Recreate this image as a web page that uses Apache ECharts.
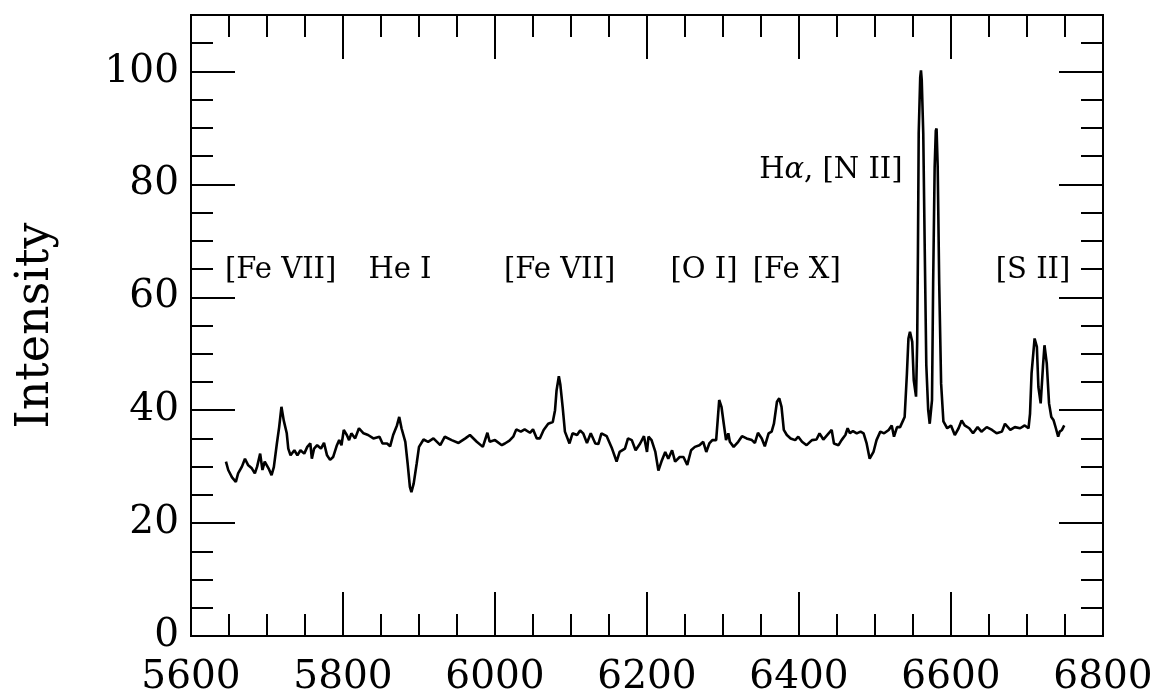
<!DOCTYPE html>
<html>
<head>
<meta charset="utf-8">
<script src="https://cdn.jsdelivr.net/npm/echarts@6/dist/echarts.min.js"></script>
<style>
  html, body { margin: 0; padding: 0; background: #fff; overflow: hidden; }
  #chart { width: 1154px; height: 693px; }
</style>
</head>
<body>
<div id="chart"></div>
<script>
// wavelength (Å) and intensity
const wave = [
  5646, 5649, 5654, 5659, 5662, 5667, 5671, 5675, 5680, 5684, 5687, 5691, 5694, 5697, 5702, 5706, 5709,
  5713, 5716, 5719, 5722, 5726, 5728, 5731, 5736, 5740, 5744, 5749, 5753, 5757, 5759, 5762, 5766, 5771,
  5775, 5779, 5783, 5787, 5792, 5795, 5798, 5801, 5805, 5808, 5811, 5816, 5821, 5827, 5833, 5840, 5848,
  5852, 5858, 5862, 5866, 5871, 5874, 5877, 5882, 5885, 5888, 5890, 5893, 5897, 5900, 5906, 5912, 5919,
  5928, 5934, 5943, 5952, 5961, 5967, 5976, 5984, 5990, 5993, 6000, 6009, 6013, 6019, 6024, 6028, 6034,
  6039, 6046, 6050, 6055, 6059, 6064, 6070, 6076, 6079, 6081, 6084, 6086, 6089, 6092, 6098, 6102, 6108,
  6112, 6116, 6121, 6126, 6132, 6136, 6140, 6147, 6154, 6160, 6164, 6171, 6175, 6180, 6185, 6191, 6196,
  6200, 6202, 6206, 6211, 6215, 6219, 6224, 6228, 6233, 6237, 6243, 6248, 6253, 6258, 6263, 6269, 6274,
  6278, 6282, 6286, 6291, 6293, 6295, 6298, 6301, 6304, 6307, 6309, 6314, 6320, 6325, 6331, 6338, 6342,
  6346, 6351, 6355, 6360, 6364, 6367, 6371, 6374, 6377, 6380, 6384, 6389, 6395, 6399, 6404, 6410, 6417,
  6423, 6427, 6432, 6439, 6443, 6446, 6452, 6456, 6461, 6464, 6467, 6471, 6476, 6481, 6485, 6489, 6493,
  6498, 6502, 6507, 6512, 6518, 6522, 6525, 6529, 6533, 6537, 6539, 6542, 6544, 6546, 6549, 6551, 6554,
  6555.5, 6556.5, 6557.5, 6559.5, 6560.5, 6561.5, 6563.5, 6565.5, 6567.5, 6570, 6572, 6575, 6576.5, 6578.5,
  6580, 6581, 6582.5, 6584.5, 6587,
  6590, 6595, 6600, 6605, 6610, 6614, 6618, 6624, 6629, 6635, 6640, 6647, 6654, 6660, 6667, 6671, 6678,
  6684, 6691, 6697, 6702, 6704, 6706, 6710, 6713, 6715, 6718, 6721, 6723, 6726, 6729, 6732, 6735, 6738,
  6741, 6743, 6746, 6749
];
const intensity = [
  30.9, 29.4, 28.1, 27.3, 28.8, 30.0, 31.4, 30.3, 29.7, 28.8, 30.0, 32.3, 29.4, 30.9, 29.7, 28.5, 29.9,
  34.1, 37.0, 40.6, 38.2, 35.9, 33.2, 32.0, 32.9, 32.0, 32.9, 32.3, 33.5, 34.1, 31.4, 33.2, 33.8, 33.2,
  34.2, 32.0, 31.2, 31.7, 33.8, 34.7, 33.8, 36.5, 35.6, 34.7, 35.9, 35.0, 36.8, 35.9, 35.6, 35.0, 35.3,
  34.1, 34.1, 33.6, 35.6, 37.3, 38.8, 36.8, 34.4, 30.6, 26.4, 25.5, 27.0, 30.6, 33.5, 34.8, 34.4, 35.0,
  33.8, 35.3, 34.7, 34.2, 35.0, 35.6, 34.4, 33.5, 36.0, 34.4, 34.7, 33.8, 34.1, 34.6, 35.3, 36.6, 36.2,
  36.6, 36.0, 36.6, 35.0, 35.0, 36.5, 37.6, 37.9, 40.0, 43.5, 46.0, 44.5, 40.6, 36.2, 34.1, 35.9, 35.6,
  36.4, 35.9, 34.2, 35.9, 34.1, 34.0, 35.9, 35.4, 33.2, 30.9, 32.6, 33.2, 35.0, 34.7, 32.9, 34.1, 35.4,
  32.6, 35.3, 34.7, 32.6, 29.3, 30.9, 32.6, 31.4, 32.9, 30.9, 31.7, 31.7, 30.3, 32.9, 33.5, 33.8, 34.4,
  32.6, 34.1, 34.7, 34.7, 38.2, 41.8, 40.6, 37.6, 34.7, 35.9, 34.4, 33.5, 34.4, 35.4, 35.0, 34.7, 34.2,
  36.0, 35.0, 33.6, 35.9, 36.2, 37.6, 41.5, 42.1, 40.6, 36.5, 35.6, 35.0, 34.7, 35.3, 34.4, 33.8, 34.7,
  34.8, 35.9, 34.8, 35.9, 36.5, 34.1, 33.8, 34.7, 35.6, 36.8, 35.9, 36.3, 35.9, 36.2, 35.9, 34.1, 31.4,
  32.6, 34.7, 36.2, 35.9, 36.5, 37.3, 35.3, 37.0, 37.0, 38.2, 38.8, 46.5, 52.7, 53.9, 52.1, 45.3, 42.4,
  52.0, 68.0, 89.0, 99.0, 100.2, 98.5, 89.0, 68.0, 48.0, 40.0, 37.6, 41.8, 62.4, 83.1,
  89.5, 89.9, 83.1, 62.4, 44.7,
  38.0, 36.8, 37.3, 35.6, 36.8, 38.2, 37.3, 36.8, 35.9, 37.0, 36.2, 37.0, 36.5, 35.9, 36.2, 37.6, 36.5,
  37.0, 36.8, 37.3, 36.8, 39.4, 46.5, 52.7, 51.2, 44.1, 41.2, 47.7, 51.5, 48.3, 41.2, 38.8, 38.2, 36.8,
  35.3, 36.2, 36.5, 37.3
];

// line identifications
const lineNames = ['[Fe VII]', 'He I', '[Fe VII]', '[O I]', '[Fe X]', 'Hα, [N II]', '[S II]'];
const lineWave = [5718, 5875, 6085, 6275, 6397, 6442, 6708];
const lineLevel = [64.8, 64.8, 64.8, 64.8, 64.8, 82.5, 64.8];

const xMin = 5600, xMax = 6800, xStep = 200;
const yMin = 0, yMax = 110, yStep = 20, yMinorStep = 5;

const FONT = 'DejaVu Serif';
const black = '#000000';

const spectrum = wave.map((w, i) => [w, intensity[i]]);
const marks = lineNames.map((n, i) => ({ name: n, value: [lineWave[i], lineLevel[i]] }));

function xAx(pos, withLabel) {
  return {
    type: 'value', position: pos, min: xMin, max: xMax, interval: xStep,
    axisLine: { show: true, onZero: false, lineStyle: { color: black, width: 2 } },
    axisTick: { show: true, inside: true, length: 44, lineStyle: { color: black, width: 2 } },
    minorTick: { show: true, splitNumber: 4, length: 22, lineStyle: { color: black, width: 2 } },
    splitLine: { show: false },
    axisLabel: {
      show: withLabel, margin: 22, color: black, fontFamily: FONT, fontSize: 39,
      formatter: (v) => String(v)
    }
  };
}

function yAx(pos, step, len, withLabel) {
  return {
    type: 'value', position: pos, min: yMin, max: yMax, interval: step,
    axisLine: { show: true, onZero: false, lineStyle: { color: black, width: 2 } },
    axisTick: { show: true, inside: true, length: len, lineStyle: { color: black, width: 2 } },
    splitLine: { show: false },
    axisLabel: {
      show: withLabel, margin: 12, color: black, fontFamily: FONT, fontSize: 39,
      showMaxLabel: false, formatter: (v) => String(v)
    }
  };
}

const leftMajor = yAx('left', yStep, 44, true);
leftMajor.name = 'Intensity';
leftMajor.nameLocation = 'middle';
leftMajor.nameRotate = 90;
leftMajor.nameGap = 132;
leftMajor.nameTextStyle = { color: black, fontFamily: FONT, fontSize: 46 };

const chart = echarts.init(document.getElementById('chart'));
chart.setOption({
  animation: false,
  backgroundColor: '#fff',
  grid: { left: 191, right: 51, top: 15, bottom: 57, containLabel: false, outerBoundsMode: 'none' },
  xAxis: [xAx('bottom', true), xAx('top', false)],
  yAxis: [
    leftMajor,
    yAx('left', yMinorStep, 22, false),
    yAx('right', yStep, 44, false),
    yAx('right', yMinorStep, 22, false)
  ],
  series: [
    {
      type: 'line',
      data: spectrum,
      showSymbol: false,
      smooth: false,
      lineStyle: { color: black, width: 2.6 },
      z: 3
    },
    {
      type: 'scatter',
      data: marks,
      symbolSize: 0,
      itemStyle: { color: black },
      label: {
        show: true,
        position: 'inside',
        color: black,
        opacity: 1,
        textBorderWidth: 0,
        fontFamily: FONT,
        fontSize: 29,
        formatter: (p) => p.name.replace('α', '{i|α}'),
        rich: { i: { fontStyle: 'italic', fontFamily: FONT, fontSize: 29, color: black } }
      },
      emphasis: { disabled: true },
      z: 4
    }
  ]
});
</script>
</body>
</html>
